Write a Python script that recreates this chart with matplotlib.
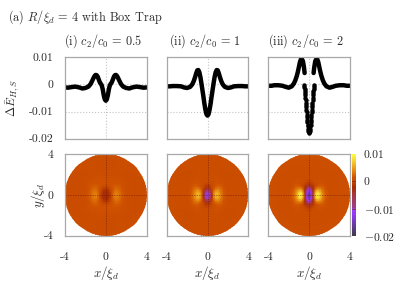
import numpy as np
import matplotlib
matplotlib.use('Agg')
import matplotlib.pyplot as plt
from matplotlib.colors import LinearSegmentedColormap, Normalize
from matplotlib.patches import Circle

plt.rcParams['font.family'] = ['cmr10', 'DejaVu Serif']
plt.rcParams['mathtext.fontset'] = 'cm'
plt.rcParams['axes.formatter.use_mathtext'] = True
plt.rcParams['axes.unicode_minus'] = False

# line profiles, x >= 0 half, mirrored when drawn
x_half = [0, 0.1, 0.2, 0.3, 0.4, 0.5, 0.6, 0.7, 0.8, 0.9, 1.0, 1.1, 1.2, 1.35, 1.5, 1.7, 2.0, 2.3, 2.6, 3.0, 3.4, 3.7, 4.0]
line_i = [-0.006, -0.0055, -0.004, -0.0018, -0.0003, 0.0003, 0.0009, 0.0019, 0.0029, 0.0034, 0.0035, 0.0031, 0.0024, 0.0012, 0.0001, -0.0008, -0.0013, -0.0015, -0.0011, -0.0008, -0.001, -0.0012, -0.0011]
line_ii = [-0.0115, -0.011, -0.0094, -0.0072, -0.0045, -0.002, 0.0005, 0.0028, 0.0045, 0.0053, 0.0052, 0.0042, 0.0029, 0.0012, 0.0, -0.0009, -0.0013, -0.0011, -0.0007, -0.0006, -0.0006, -0.0007, -0.0007]
line_iii_outer_x = [0.44, 0.5, 0.6, 0.7, 0.8, 0.9, 1.0, 1.1, 1.2, 1.35, 1.5, 1.7, 2.0, 2.3, 2.6, 3.0, 3.4, 3.7, 4.0]
line_iii_outer = [0.0042, 0.0062, 0.0085, 0.0093, 0.0093, 0.0082, 0.0064, 0.0047, 0.0032, 0.0015, 0.0003, -0.0007, -0.0012, -0.0009, -0.0005, -0.0003, -0.0003, -0.0005, -0.0005]
# the steep part near the centre shows single points
line_iii_inner_x = [0, 0.03, 0.06, 0.09, 0.12, 0.14, 0.16, 0.18, 0.2, 0.22, 0.24, 0.26, 0.28, 0.3, 0.32, 0.34, 0.36, 0.38, 0.4, 0.42, 0.44, 0.46, 0.48]
line_iii_inner = [-0.0178, -0.0176, -0.0171, -0.0163, -0.0155, -0.0148, -0.0139, -0.013, -0.0121, -0.0112, -0.0103, -0.0094, -0.0085, -0.0076, -0.0067, -0.0058, -0.0049, -0.004, -0.0032, -0.0024, -0.0016, -0.0009, -0.0002]

# energy map on one quadrant, rows are y, columns are x
map_x = [0, 0.2, 0.4, 0.6, 0.8, 1.0, 1.3, 1.6, 2.0, 3.0, 4.0]
map_y = [0, 0.3, 0.6, 0.9, 1.2, 1.6, 2.0, 3.0, 4.0]
map_i = [
    [-0.003, -0.0026, -0.0012, 0.001, 0.003, 0.0038, 0.003, 0.0018, 0.0006, 0.0004, 0.0006],
    [-0.0025, -0.0021, -0.0008, 0.001, 0.0027, 0.0034, 0.0028, 0.0017, 0.0006, 0.0004, 0.0006],
    [-0.0012, -0.001, 0.0, 0.001, 0.002, 0.0026, 0.0023, 0.0015, 0.0006, 0.0004, 0.0006],
    [0.0005, 0.0005, 0.001, 0.0014, 0.0018, 0.002, 0.0018, 0.0013, 0.0006, 0.0004, 0.0006],
    [0.0014, 0.0014, 0.0015, 0.0015, 0.0015, 0.0015, 0.0014, 0.001, 0.0006, 0.0004, 0.0006],
    [0.0012, 0.0012, 0.0012, 0.0011, 0.0011, 0.001, 0.0009, 0.0007, 0.0005, 0.0004, 0.0006],
    [0.0006, 0.0006, 0.0006, 0.0006, 0.0006, 0.0006, 0.0006, 0.0005, 0.0004, 0.0005, 0.0006],
    [0.0004, 0.0004, 0.0004, 0.0004, 0.0004, 0.0005, 0.0005, 0.0005, 0.0005, 0.0006, 0.0006],
    [0.0006, 0.0006, 0.0006, 0.0006, 0.0006, 0.0006, 0.0006, 0.0006, 0.0006, 0.0006, 0.0006],
]
map_ii = [
    [-0.0125, -0.0108, -0.002, 0.0035, 0.006, 0.0062, 0.0038, 0.0018, 0.0005, 0.0005, 0.0007],
    [-0.0108, -0.0085, -0.0015, 0.003, 0.0052, 0.0055, 0.0034, 0.0017, 0.0005, 0.0005, 0.0007],
    [-0.0045, -0.0035, -0.0005, 0.0017, 0.003, 0.0035, 0.0027, 0.0015, 0.0005, 0.0005, 0.0007],
    [-0.0012, -0.001, 0.0002, 0.0009, 0.0016, 0.002, 0.0019, 0.0012, 0.0005, 0.0005, 0.0007],
    [0.0002, 0.0003, 0.0005, 0.0008, 0.0012, 0.0014, 0.0012, 0.0009, 0.0005, 0.0005, 0.0007],
    [0.0008, 0.0008, 0.0008, 0.0008, 0.0009, 0.0009, 0.0008, 0.0006, 0.0004, 0.0005, 0.0007],
    [0.0005, 0.0005, 0.0005, 0.0005, 0.0005, 0.0005, 0.0005, 0.0004, 0.0004, 0.0006, 0.0007],
    [0.0005, 0.0005, 0.0005, 0.0005, 0.0005, 0.0005, 0.0005, 0.0006, 0.0006, 0.0007, 0.0007],
    [0.0007, 0.0007, 0.0007, 0.0007, 0.0007, 0.0007, 0.0007, 0.0007, 0.0007, 0.0007, 0.0007],
]
map_iii = [
    [-0.018, -0.0125, -0.004, 0.0062, 0.0098, 0.0085, 0.0042, 0.002, 0.0006, 0.0008, 0.001],
    [-0.014, -0.0108, -0.003, 0.005, 0.0082, 0.0072, 0.0037, 0.0019, 0.0006, 0.0008, 0.001],
    [-0.0105, -0.0075, -0.002, 0.0022, 0.0042, 0.004, 0.0028, 0.0016, 0.0006, 0.0008, 0.001],
    [-0.004, -0.0032, -0.0012, 0.0004, 0.0012, 0.0018, 0.0018, 0.0012, 0.0006, 0.0008, 0.001],
    [-0.0008, -0.0006, 0.0002, 0.0005, 0.0008, 0.0011, 0.0011, 0.0009, 0.0005, 0.0008, 0.001],
    [0.0007, 0.0007, 0.0007, 0.0007, 0.0008, 0.0008, 0.0007, 0.0006, 0.0005, 0.0008, 0.001],
    [0.0005, 0.0005, 0.0005, 0.0005, 0.0005, 0.0005, 0.0005, 0.0005, 0.0005, 0.0008, 0.001],
    [0.0007, 0.0007, 0.0007, 0.0007, 0.0007, 0.0007, 0.0007, 0.0008, 0.0008, 0.0009, 0.001],
    [0.001, 0.001, 0.001, 0.001, 0.001, 0.001, 0.001, 0.001, 0.001, 0.001, 0.001],
]

titles = [r'(i) $c_2/c_0$ = 0.5', r'(ii) $c_2/c_0$ = 1', r'(iii) $c_2/c_0$ = 2']
line_ticks = [-0.02, -0.01, 0, 0.01]
line_tick_labels = ['-0.02', '-0.01', '0', '0.01']
map_ticks = [-4, 0, 4]
map_tick_labels = ['-4', '0', '4']
cbar_ticks = [-0.02, -0.01, 0, 0.01]
cbar_tick_labels = [r'$-$0.02', r'$-$0.01', '0', '0.01']

# colour scale
cmap_values = [-0.02, -0.017, -0.0125, -0.0102, -0.0098, -0.005, -0.002, 0.0, 0.0015, 0.004, 0.007, 0.01]
cmap_colors = ['#403a48', '#5c3c88', '#9038f0', '#a040ff', '#a03c90', '#a83840', '#a82c00', '#c84a00', '#d05200', '#e88a10', '#f4c830', '#ffff40']
vmin, vmax = -0.02, 0.01
heat = LinearSegmentedColormap.from_list('heat', [((v - vmin) / (vmax - vmin), c) for v, c in zip(cmap_values, cmap_colors)], N=512)
norm = Normalize(vmin, vmax)

W, H = 407.0, 285.0
FRAME = '#a8a8a8'
TEXT = '#2a2a2a'
FS = 8.4
FS_TITLE = 8.8

def box(left, top, right, bottom):
    return [left / W, 1 - bottom / H, (right - left) / W, (bottom - top) / H]

def mirror(xs, ys):
    xs = np.array(xs)
    ys = np.array(ys)
    return np.concatenate([-xs[::-1], xs[1:]]), np.concatenate([ys[::-1], ys[1:]])

def style_frame(ax):
    for s in ax.spines.values():
        s.set_color(FRAME)
        s.set_linewidth(0.9)
    ax.tick_params(length=0, colors=TEXT, labelsize=FS)

fig = plt.figure(figsize=(4.07, 2.85), dpi=100)
fig.text(8 / W, 1 - 17 / H, r'(a) $R/\xi_d$ = 4 with Box Trap', fontsize=FS_TITLE, color=TEXT, va='center', ha='left')

lefts = [65, 166.7, 268.3]
lines = [(x_half, line_i), (x_half, line_ii), (line_iii_outer_x, line_iii_outer)]
maps = [map_i, map_ii, map_iii]

for i in range(3):
    left = lefts[i]
    right = left + 81.6
    ax = fig.add_axes(box(left, 57.3, right, 138.7))
    ax.set_xlim(-4, 4)
    ax.set_ylim(-0.02, 0.01)
    ax.set_xticks([0])
    ax.set_xticklabels([])
    ax.set_yticks(line_ticks)
    ax.set_yticklabels(line_tick_labels if i == 0 else [])
    ax.grid(True, color='#c4c4c4', linestyle=':', linewidth=0.8)
    ax.set_axisbelow(True)
    style_frame(ax)
    ax.tick_params(axis='y', pad=8.5)
    xs, ys = lines[i]
    if i == 2:
        xa = np.array(xs)
        ya = np.array(ys)
        ax.plot(-xa, ya, color='k', lw=3.2, solid_capstyle='round')
        ax.plot(xa, ya, color='k', lw=3.2, solid_capstyle='round')
        xi, yi = mirror(line_iii_inner_x, line_iii_inner)
        ax.plot(xi, yi, 'o', color='k', ms=3.2, mew=0)
    else:
        xm, ym = mirror(xs, ys)
        ax.plot(xm, ym, color='k', lw=3.2, solid_capstyle='round', solid_joinstyle='round')
    if i == 0:
        ax.set_ylabel(r'$\Delta\bar{E}_{H,S}$', fontsize=FS + 0.3, color=TEXT, va='center')
        ax.yaxis.set_label_coords((13 - left) / 81.6, 0.5)
    fig.text((left + 38) / W, 1 - 41 / H, titles[i], fontsize=FS_TITLE, color=TEXT, ha='center', va='center')

    am = fig.add_axes(box(left, 154.3, right, 235.7))
    mx, _ = mirror(map_x, map_x)
    my, _ = mirror(map_y, map_y)
    q = np.array(maps[i])
    full = np.vstack([q[::-1], q[1:]])
    full = np.hstack([full[:, ::-1], full[:, 1:]])
    mesh = am.pcolormesh(mx, my, full, cmap=heat, norm=norm, shading='gouraud')
    mesh.set_clip_path(Circle((0, 0), 4, transform=am.transData))
    am.axvline(0, color='#701800', ls=(0, (2, 1.5)), lw=0.5, alpha=0.7)
    am.axhline(0, color='#701800', ls=(0, (2, 1.5)), lw=0.5, alpha=0.7)
    am.set_xlim(-4, 4)
    am.set_ylim(-4, 4)
    am.set_xticks(map_ticks)
    am.set_xticklabels(map_tick_labels)
    am.set_yticks(map_ticks)
    am.set_yticklabels(map_tick_labels if i == 0 else [])
    style_frame(am)
    am.tick_params(axis='x', pad=12)
    am.tick_params(axis='y', pad=8.5)
    am.set_xlabel(r'$x/\xi_d$', fontsize=FS + 1, color=TEXT, labelpad=1.4)
    if i == 0:
        am.set_ylabel(r'$y/\xi_d$', fontsize=FS + 1, color=TEXT, va='center')
        am.yaxis.set_label_coords((38 - left) / 81.6, 0.5)

cax = fig.add_axes(box(352, 154.3, 356, 235.7))
grad = np.linspace(vmin, vmax, 256).reshape(-1, 1)
cax.imshow(grad, origin='lower', aspect='auto', cmap=heat, norm=norm, extent=[0, 1, vmin, vmax])
cax.set_xticks([])
cax.yaxis.tick_right()
cax.set_yticks(cbar_ticks)
cax.set_yticklabels(cbar_tick_labels)
cax.tick_params(length=0, colors=TEXT, labelsize=FS, pad=5.5)
cax.hlines([0, -0.01], 0, 1, color='#7a2a20', lw=0.6)
for s in cax.spines.values():
    s.set_visible(False)

fig.savefig('out.png', dpi=100)
